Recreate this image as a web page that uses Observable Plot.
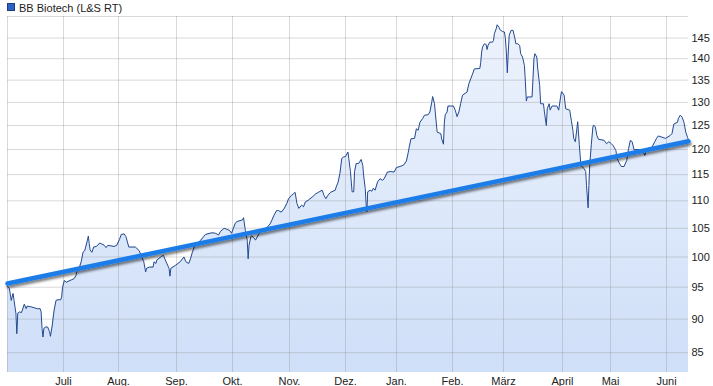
<!DOCTYPE html>
<html>
<head>
<meta charset="utf-8">
<script src="https://cdn.jsdelivr.net/npm/d3@7"></script>
<script src="https://cdn.jsdelivr.net/npm/@observablehq/plot@0.6"></script>
<style>
  html, body { margin: 0; padding: 0; background: #fff; overflow: hidden; }
  svg { display: block; }
</style>
</head>
<body>
<div id="chart"></div>
<script>
const seriesName = "BB Biotech (L&S RT)";

const dates = [
  "2013-06-01","2013-06-02","2013-06-03","2013-06-04","2013-06-04T12","2013-06-05T12","2013-06-06","2013-06-06T12","2013-06-07T12","2013-06-08T12",
  "2013-06-09","2013-06-10","2013-06-11","2013-06-11T12","2013-06-13T12","2013-06-17","2013-06-18T12","2013-06-19","2013-06-19T12","2013-06-20",
  "2013-06-20T12","2013-06-21T12","2013-06-22T12","2013-06-23T12","2013-06-24","2013-06-25","2013-06-25T12","2013-06-26","2013-06-27","2013-06-28",
  "2013-06-29T12","2013-06-30","2013-06-30T12",
  "2013-07-01T12","2013-07-02T12","2013-07-05T12","2013-07-07","2013-07-08","2013-07-08T12","2013-07-10","2013-07-11","2013-07-12","2013-07-13",
  "2013-07-13T12","2013-07-14T12","2013-07-15","2013-07-15T12","2013-07-16","2013-07-17","2013-07-18","2013-07-19T12","2013-07-21T12","2013-07-24",
  "2013-07-25","2013-07-26","2013-07-29T12","2013-07-31",
  "2013-08-01T12","2013-08-02T12","2013-08-04","2013-08-05","2013-08-06T12","2013-08-10","2013-08-12","2013-08-13T12","2013-08-14T12","2013-08-15T12",
  "2013-08-16","2013-08-17T12","2013-08-19T12","2013-08-20","2013-08-21","2013-08-21T12","2013-08-24","2013-08-25","2013-08-26","2013-08-28",
  "2013-08-28T12","2013-08-29","2013-08-31T12",
  "2013-09-03","2013-09-05","2013-09-06","2013-09-07T12","2013-09-08T12","2013-09-09T12","2013-09-10T12","2013-09-12","2013-09-14","2013-09-15T12",
  "2013-09-16T12","2013-09-20","2013-09-22","2013-09-23T12","2013-09-24T12","2013-09-26T12","2013-09-28","2013-09-29T12","2013-09-30T12",
  "2013-10-01T12","2013-10-02T12","2013-10-03T12","2013-10-06T12","2013-10-07","2013-10-08","2013-10-09","2013-10-09T12","2013-10-10","2013-10-11",
  "2013-10-11T12","2013-10-12T12","2013-10-13T12","2013-10-15","2013-10-16","2013-10-18","2013-10-20","2013-10-21T12","2013-10-22T12","2013-10-23T12",
  "2013-10-25","2013-10-26","2013-10-27T12","2013-10-29","2013-10-30T12","2013-10-31T12",
  "2013-11-02","2013-11-03","2013-11-04","2013-11-05","2013-11-06","2013-11-07T12","2013-11-08T12","2013-11-09T12","2013-11-11","2013-11-12",
  "2013-11-13T12","2013-11-15","2013-11-16T12","2013-11-18T12","2013-11-19T12","2013-11-20T12","2013-11-21T12","2013-11-23","2013-11-25T12","2013-11-26",
  "2013-11-27","2013-11-28","2013-11-29","2013-11-30",
  "2013-12-01","2013-12-02T12","2013-12-03","2013-12-04","2013-12-05","2013-12-06","2013-12-06T12","2013-12-07T12","2013-12-09","2013-12-10T12",
  "2013-12-11T12","2013-12-12","2013-12-13","2013-12-13T12","2013-12-14","2013-12-14T12","2013-12-16","2013-12-17","2013-12-18","2013-12-19",
  "2013-12-20T12","2013-12-22","2013-12-23T12","2013-12-24T12","2013-12-26T12","2013-12-28T12","2013-12-30T12",
  "2014-01-01","2014-01-03","2014-01-05","2014-01-06T12","2014-01-07T12","2014-01-08","2014-01-09","2014-01-11","2014-01-12","2014-01-13",
  "2014-01-14","2014-01-15T12","2014-01-16T12","2014-01-18T12","2014-01-19T12","2014-01-20T12","2014-01-21","2014-01-22","2014-01-23T12","2014-01-25T12",
  "2014-01-26","2014-01-27","2014-01-27T12","2014-01-28","2014-01-29","2014-01-29T12",
  "2014-02-01T12","2014-02-02T12","2014-02-03T12","2014-02-04T12","2014-02-05T12","2014-02-06T12","2014-02-09","2014-02-10","2014-02-11","2014-02-12",
  "2014-02-13","2014-02-16","2014-02-16T12","2014-02-17","2014-02-17T12","2014-02-18T12","2014-02-19T12","2014-02-20","2014-02-20T12","2014-02-21T12",
  "2014-02-23","2014-02-23T12","2014-02-24","2014-02-25","2014-02-25T12","2014-02-26T12","2014-02-27","2014-02-28T12",
  "2014-03-01T12","2014-03-02","2014-03-02T12","2014-03-03","2014-03-03T12","2014-03-04","2014-03-05","2014-03-06","2014-03-07","2014-03-07T12",
  "2014-03-08T12","2014-03-09T12","2014-03-10","2014-03-11","2014-03-12","2014-03-12T12","2014-03-13","2014-03-13T12","2014-03-16","2014-03-16T12",
  "2014-03-17","2014-03-17T12","2014-03-18T12","2014-03-19","2014-03-20","2014-03-20T12","2014-03-22","2014-03-22T12","2014-03-23T12","2014-03-24",
  "2014-03-25","2014-03-25T12","2014-03-26T12","2014-03-29","2014-03-30","2014-03-31","2014-03-31T12",
  "2014-04-02","2014-04-03","2014-04-05T12","2014-04-06T12","2014-04-07T12","2014-04-08","2014-04-09","2014-04-10","2014-04-10T12","2014-04-11T12",
  "2014-04-12T12","2014-04-14T12","2014-04-15T12","2014-04-16","2014-04-17","2014-04-17T12","2014-04-18","2014-04-19","2014-04-20","2014-04-20T12",
  "2014-04-21T12","2014-04-22T12","2014-04-23T12","2014-04-27","2014-04-28T12","2014-04-30",
  "2014-05-01T12","2014-05-02T12","2014-05-04","2014-05-04T12","2014-05-05T12","2014-05-07","2014-05-08T12","2014-05-10","2014-05-11","2014-05-12",
  "2014-05-13","2014-05-14","2014-05-17T12","2014-05-19","2014-05-20","2014-05-20T12","2014-05-21T12","2014-05-24","2014-05-25T12","2014-05-26T12",
  "2014-05-27T12","2014-05-31T12",
  "2014-06-03","2014-06-04","2014-06-05","2014-06-07","2014-06-07T12","2014-06-08T12","2014-06-09T12","2014-06-10T12","2014-06-11T12","2014-06-12T12",
  "2014-06-13"
];

const prices = [
  95.1,94.8,92.9,94.0,92.9,90.9,87.8,90.9,91.1,91.0,
  91.4,92.3,91.6,92.0,91.9,91.6,91.6,91.1,88.6,87.3,
  88.6,88.8,88.8,88.1,87.4,89.1,90.3,91.4,92.9,93.0,
  93.0,93.4,95.0,
  96.1,95.8,96.2,96.4,96.9,97.5,98.3,99.2,100.8,101.1,
  101.7,102.9,103.6,102.3,101.2,100.8,101.7,101.8,102.4,102.0,
  101.6,102.0,101.8,102.0,
  103.0,103.9,104.0,103.5,101.7,101.7,101.1,100.0,99.2,97.5,
  98.1,98.3,98.3,99.2,98.9,99.5,100.1,100.3,99.5,98.1,
  96.8,98.1,98.6,
  99.2,100.0,99.2,98.9,99.7,100.8,101.7,102.3,102.9,103.5,
  103.9,104.2,104.1,103.8,104.4,105.0,104.8,104.6,104.1,
  105.0,105.9,106.2,106.5,106.9,104.6,102.9,99.7,102.0,103.5,
  103.6,103.4,102.9,103.8,104.4,104.8,105.2,105.8,106.5,107.3,
  108.2,108.2,107.9,108.5,109.5,110.4,
  111.0,111.3,111.6,109.5,108.6,109.2,108.9,109.8,110.1,110.4,
  110.8,111.3,111.6,112.0,111.0,110.4,111.0,111.6,112.0,112.6,
  113.5,115.2,118.2,118.5,
  118.6,119.5,118.2,115.6,111.7,111.7,115.6,117.2,117.2,118.0,
  116.8,114.9,112.3,109.5,108.0,111.7,112.0,111.8,112.4,112.0,
  113.6,114.2,113.9,114.2,115.5,115.6,115.5,
  116.4,116.6,116.9,117.7,119.4,120.4,122.2,122.3,124.3,124.0,
  125.7,126.5,127.2,127.3,127.9,130.0,131.3,129.8,123.6,123.3,
  122.2,121.1,125.7,127.3,127.9,129.2,
  129.2,128.3,126.9,127.9,129.8,131.6,132.3,134.2,135.3,136.4,
  137.6,137.7,139.1,141.6,142.8,143.6,143.4,142.2,143.2,144.0,
  144.0,144.4,146.1,147.3,148.3,147.7,147.1,146.6,
  146.5,144.9,141.6,136.7,141.6,145.7,146.9,146.9,144.9,143.6,
  143.6,143.2,141.2,140.4,138.4,134.6,130.3,131.2,131.2,135.4,
  140.0,141.2,140.4,137.6,133.8,129.7,129.7,127.9,125.0,128.6,
  129.7,128.3,129.2,129.2,128.3,131.2,132.4,
  131.6,128.6,128.3,126.1,124.0,122.3,121.6,124.3,125.8,121.0,
  116.8,116.2,115.6,112.9,108.7,112.9,116.8,121.0,124.7,125.1,
  124.7,122.9,122.1,121.9,121.2,121.6,
  121.2,120.8,119.8,118.4,117.5,116.6,116.6,117.8,120.2,121.9,
  121.6,120.0,120.0,119.6,118.8,119.5,120.2,120.5,121.6,122.3,
  122.8,122.3,
  122.9,123.3,125.3,125.7,126.5,127.2,126.8,125.7,123.6,122.5,
  121.9
];

const trendDates = ["2013-06-01", "2014-06-13"];
const trendValues = [95.6, 121.7];

const monthTicks = ["2013-07-01","2013-08-01","2013-09-01","2013-10-01","2013-11-01","2013-12-01",
                    "2014-01-01","2014-02-01","2014-03-01","2014-04-01","2014-05-01","2014-06-01"];
const monthLabels = ["Juli","Aug.","Sep.","Okt.","Nov.","Dez.","Jan.","Feb.","März","April","Mai","Juni"];
const yTicks = [85, 90, 95, 100, 105, 110, 115, 120, 125, 130, 135, 140, 145];
const yDomain = [82.2, 150.4];

const parse = s => new Date(s.length > 10 ? s + ":00Z" : s + "T00:00Z");

const data = dates.map((d, i) => ({date: parse(d), value: prices[i]}));
const trend = trendDates.map((d, i) => ({date: parse(d), value: trendValues[i]}));
const tickDates = monthTicks.map(parse);
const labelMap = new Map(tickDates.map((d, i) => [+d, monthLabels[i]]));

// piecewise calendar: month starts as spaced on the reference chart
const xDomain = [parse("2013-06-01"), ...tickDates, parse("2014-06-13")];
const xRange = [7, 63, 118, 176, 232, 289, 345, 396, 452, 503, 562, 610, 666, 688];

const gridStyle = {stroke: "#8c8c8c", strokeOpacity: 0.33};
const font = "'Liberation Sans', Arial, sans-serif";

const svg = Plot.plot({
  width: 713,
  height: 386,
  marginLeft: 7,
  marginRight: 25,
  marginTop: 16,
  marginBottom: 14,
  style: {fontFamily: font, fontSize: "11px", color: "#222", background: "#fff", overflow: "visible"},
  x: {type: "utc", domain: xDomain, range: xRange, ticks: tickDates, tickFormat: d => labelMap.get(+d) ?? "", tickSize: 0, tickPadding: 5, label: null},
  y: {type: "log", domain: yDomain, axis: null},
  marks: [
    Plot.areaY(data, {x: "date", y1: yDomain[0], y2: "value", fill: "url(#areaGrad)"}),
    Plot.ruleX(tickDates, gridStyle),
    Plot.ruleY(yTicks, gridStyle),
    Plot.ruleX([xDomain[0]], gridStyle),
    Plot.ruleY([yDomain[1]], gridStyle),
    Plot.line(data, {x: "date", y: "value", stroke: "#24498f", strokeWidth: 1}),
    Plot.line(trend, {x: "date", y: "value", stroke: "#1b7de8", strokeWidth: 4.5, ariaDescription: "trend"}),
    Plot.text(yTicks, {y: d => d, text: d => String(d), frameAnchor: "right", textAnchor: "start", dx: 3, fill: "#222"})
  ]
});

const s = d3.select(svg);
const defs = s.insert("defs", ":first-child");
const grad = defs.append("linearGradient").attr("id", "areaGrad")
  .attr("gradientUnits", "userSpaceOnUse").attr("x1", 0).attr("x2", 0).attr("y1", 16).attr("y2", 372);
grad.append("stop").attr("offset", 0).attr("stop-color", "#edf3fd");
grad.append("stop").attr("offset", 1).attr("stop-color", "#cfdff8");
const f = defs.append("filter").attr("id", "shadow").attr("x", "-5%").attr("y", "-50%").attr("width", "110%").attr("height", "200%");
f.append("feDropShadow").attr("dx", 1).attr("dy", 2.5).attr("stdDeviation", 1.3)
  .attr("flood-color", "#000").attr("flood-opacity", 0.5);
s.selectAll("g[aria-description=trend]").attr("filter", "url(#shadow)");

// legend inside the top margin
s.append("rect").attr("x", 7.5).attr("y", 3.5).attr("width", 7).attr("height", 7)
  .attr("fill", "#2d62c4").attr("stroke", "#1b3d84");
s.append("text").attr("x", 19).attr("y", 11.5).attr("fill", "#222")
  .attr("text-anchor", "start")
  .style("font-family", font).style("font-size", "11px")
  .text(seriesName);

document.getElementById("chart").appendChild(svg);
</script>
</body>
</html>
